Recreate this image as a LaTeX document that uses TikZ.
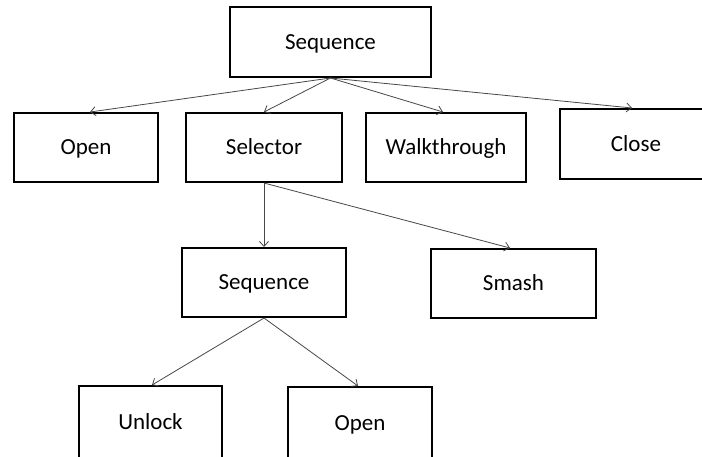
\documentclass[tikz,border=0pt]{standalone}
\usepackage{fontspec}
\setmainfont{Carlito}
\usetikzlibrary{arrows.meta,calc}
\begin{document}
\begin{tikzpicture}[x=1pt,y=-1pt,
  box/.style={draw=black, line width=2pt, rectangle, inner sep=0pt, text height=14.6pt, text depth=0pt, font=\fontsize{23}{27}\selectfont},
  arr/.style={draw=black!72, line width=0.8pt, -{Straight Barb[length=5pt,width=9pt]}}]
\useasboundingbox (0,0) rectangle (702,456);
\clip (0,0) rectangle (702,456);
\node[box, minimum width=201pt, minimum height=70pt] (seq) at (330.5,42) {Sequence};
\node[box, minimum width=144pt, minimum height=69pt] (open) at (86,147.5) {Open};
\node[box, minimum width=156pt, minimum height=69pt] (sel) at (264,147.5) {Selector};
\node[box, minimum width=160pt, minimum height=69pt] (walk) at (446,147.5) {Walkthrough};
\node[box, minimum width=152pt, minimum height=70pt] (close) at (636,144) {Close};
\node[box, minimum width=164pt, minimum height=69pt] (seqb) at (264,282.5) {Sequence};
\node[box, minimum width=165pt, minimum height=69pt] (smash) at (513.5,283.5) {Smash};
\node[box, minimum width=143pt, minimum height=72pt] (unlock) at (150.5,422) {Unlock};
\node[box, minimum width=144pt, minimum height=72pt] (openb) at (360,423) {Open};
\draw[arr] (seq.south) -- ($(open.north)+(4,0)$);
\draw[arr] (seq.south) -- (sel.north);
\draw[arr] (seq.south) -- ($(walk.north)+(-3,0)$);
\draw[arr] (seq.south) -- ($(close.north)+(-4,0)$);
\draw[arr] (sel.south) -- (seqb.north);
\draw[arr] (sel.south) -- ($(smash.north)+(-3.5,0)$);
\draw[arr] (seqb.south) -- ($(unlock.north)+(1.5,0)$);
\draw[arr] (seqb.south) -- ($(openb.north)+(-2,0)$);
\end{tikzpicture}
\end{document}
